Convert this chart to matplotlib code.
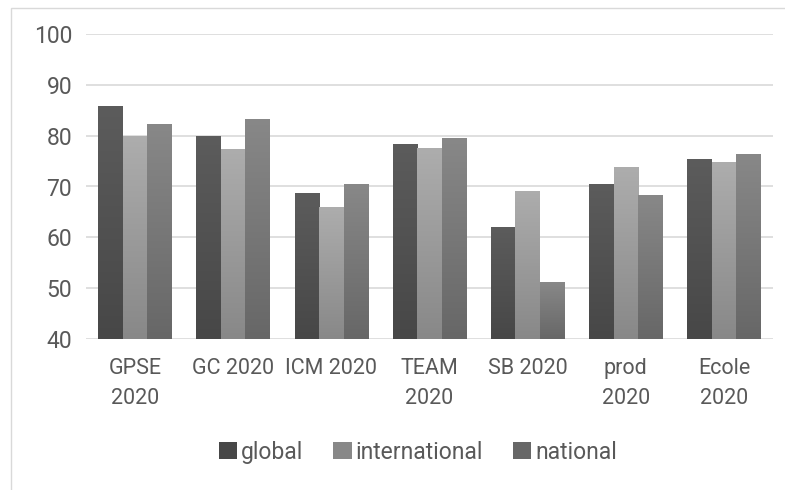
import numpy as np
import matplotlib
matplotlib.use("Agg")
import matplotlib.pyplot as plt
from matplotlib.colors import LinearSegmentedColormap
from matplotlib.patches import Rectangle

categories = ["GPSE\n2020", "GC 2020", "ICM 2020", "TEAM\n2020", "SB 2020", "prod\n2020", "Ecole\n2020"]
series_names = ["global", "international", "national"]
global_vals = [85.8, 80.0, 68.7, 78.4, 62.0, 70.5, 75.5]
international_vals = [79.9, 77.4, 65.9, 77.5, 69.2, 73.8, 74.8]
national_vals = [82.2, 83.3, 70.4, 79.6, 51.2, 68.3, 76.3]
y_ticks = [40, 50, 60, 70, 80, 90, 100]

# (top colour, bottom colour) of each series' vertical shading
shades = [("#5c5c5c", "#474747"), ("#adadad", "#888888"), ("#888888", "#676767")]

plt.rcParams["font.family"] = ["Roboto", "DejaVu Sans"]

fig = plt.figure(figsize=(7.85, 4.9), dpi=100)
fig.patch.set_facecolor("white")
fig.patches.append(Rectangle((11 / 785, -0.1), 1.0, 1 - 8 / 490 + 0.1,
                             transform=fig.transFigure, fill=False,
                             edgecolor="#d9d9d9", linewidth=1.0))

ax = fig.add_axes([86 / 785, 1 - 339 / 490, (773 - 86) / 785, (339 - 34) / 490])
x = np.arange(len(categories))
width = 0.25
ymin, ymax = y_ticks[0], y_ticks[-1]

grad = np.linspace(1, 0, 256).reshape(-1, 1)
for k, (vals, name) in enumerate(zip([global_vals, international_vals, national_vals], series_names)):
    top, bottom = shades[k]
    bars = ax.bar(x + (k - 1) * width, vals, width, color=bottom, label=name,
                  edgecolor="none", zorder=2)
    cmap = LinearSegmentedColormap.from_list(name, [bottom, top])
    for b in bars:
        x0, w, h = b.get_x(), b.get_width(), b.get_height()
        im = ax.imshow(grad, extent=[x0, x0 + w, ymin, h], aspect="auto",
                       cmap=cmap, vmin=0, vmax=1, zorder=2.5, interpolation="bilinear")
        im.set_clip_path(b)

ax.set_xlim(-0.5, len(categories) - 0.5)
ax.set_ylim(ymin, ymax)
ax.set_yticks(y_ticks)
ax.set_xticks(x)
ax.set_xticklabels(categories, fontsize=15.5, color="#595959", linespacing=1.55)
ax.tick_params(axis="y", length=0, pad=10, labelsize=16.5, labelcolor="#595959")
ax.tick_params(axis="x", length=0, pad=14)
ax.grid(axis="y", color="#d9d9d9", linewidth=1.2, zorder=0)
ax.set_axisbelow(True)
for s in ax.spines.values():
    s.set_visible(False)

handles, labels = ax.get_legend_handles_labels()
fig.legend(handles, labels, loc="center", bbox_to_anchor=(418 / 785, 1 - 452 / 490),
           ncol=3, frameon=False, fontsize=16.5, labelcolor="#595959",
           handlelength=0.8, handleheight=0.8, handletextpad=0.18, columnspacing=1.3)

fig.savefig("out.png", dpi=100, facecolor="white")
